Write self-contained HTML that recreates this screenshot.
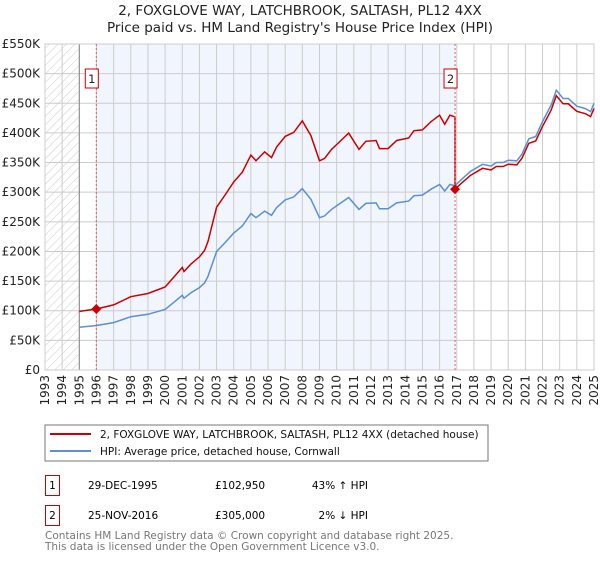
<!DOCTYPE html>
<html><head><meta charset="utf-8"><style>
body{margin:0;background:#fff;width:600px;height:560px;overflow:hidden;font-family:"DejaVu Sans","Liberation Sans",sans-serif;}
svg text{font-family:"DejaVu Sans","Liberation Sans",sans-serif;}
</style></head><body>
<svg id="c" width="600" height="560" xmlns="http://www.w3.org/2000/svg">
<defs><pattern id="hatch" width="6" height="6" patternUnits="userSpaceOnUse" patternTransform="rotate(45)"><line x1="0" y1="0" x2="0" y2="6" stroke="#ccc" stroke-width="1"/></pattern></defs>
<text x="300" y="15" text-anchor="middle" font-size="13.5" fill="#222">2, FOXGLOVE WAY, LATCHBROOK, SALTASH, PL12 4XX</text>
<text x="300" y="32" text-anchor="middle" font-size="13.5" fill="#222">Price paid vs. HM Land Registry's House Price Index (HPI)</text>
<g id="plot"></g>
<rect x="45" y="425" width="443" height="36" fill="#fff" stroke="#777"/>
<line x1="50" y1="434" x2="91" y2="434" stroke="#cc0000" stroke-width="2"/>
<text x="100" y="438" font-size="10.5" fill="#111">2, FOXGLOVE WAY, LATCHBROOK, SALTASH, PL12 4XX (detached house)</text>
<line x1="50" y1="451" x2="91" y2="451" stroke="#5b8fd6" stroke-width="2"/>
<text x="100" y="455" font-size="10.5" fill="#111">HPI: Average price, detached house, Cornwall</text>
<g>
<rect x="45.5" y="475.5" width="14" height="20" fill="#fff" stroke="#cc0000"/>
<text x="52.5" y="489" font-size="10.5" text-anchor="middle">1</text>
<text x="88" y="489" font-size="10.5">29-DEC-1995</text>
<text x="215" y="489" font-size="10.5">£102,950</text>
<text x="368" y="489" font-size="10.5" text-anchor="end">43% ↑ HPI</text>
</g>
<g>
<rect x="45.5" y="505.5" width="14" height="20" fill="#fff" stroke="#cc0000"/>
<text x="52.5" y="519" font-size="10.5" text-anchor="middle">2</text>
<text x="88" y="519" font-size="10.5">25-NOV-2016</text>
<text x="215" y="519" font-size="10.5">£305,000</text>
<text x="368" y="519" font-size="10.5" text-anchor="end">2% ↓ HPI</text>
</g>
<text x="45" y="539" font-size="10.5" fill="#777">Contains HM Land Registry data © Crown copyright and database right 2025.</text>
<text x="45" y="550" font-size="10.5" fill="#777">This data is licensed under the Open Government Licence v3.0.</text>
</svg>
<script>
const hpiYears=[1995,1996,1997,1998,1999,2000,2000.5,2001,2001.1,2001.5,2002,2002.3,2002.5,2003,2003.5,2004,2004.5,2005,2005.3,2005.8,2006.2,2006.5,2007,2007.5,2008,2008.5,2009,2009.3,2009.7,2010,2010.7,2011.3,2011.7,2012.3,2012.5,2013,2013.5,2014.2,2014.5,2015,2015.5,2016,2016.3,2016.6,2016.9,2017.3,2017.8,2018.5,2019,2019.3,2019.7,2020,2020.5,2020.8,2021.2,2021.6,2022,2022.5,2022.8,2023.2,2023.5,2024,2024.5,2024.8,2025];
const hpiValues=[72,75,80,90,94,102,114,126,121,130,139,147,158,200,215,231,243,264,257,268,261,274,287,292,306,288,257,260,271,277,291,271,281,282,272,272,282,285,294,295,305,313,302,313,311,322,335,347,344,350,350,354,353,364,390,394,419,447,472,458,458,445,441,436,450];
const saleYears=[1995.99,2016.9];
const salePrices=[102.95,305];
const saleLabels=["1","2"];
const yTicks=[0,50,100,150,200,250,300,350,400,450,500,550];
const yTickLabels=["£0","£50K","£100K","£150K","£200K","£250K","£300K","£350K","£400K","£450K","£500K","£550K"];
const xTicks=[1993,1994,1995,1996,1997,1998,1999,2000,2001,2002,2003,2004,2005,2006,2007,2008,2009,2010,2011,2012,2013,2014,2015,2016,2017,2018,2019,2020,2021,2022,2023,2024,2025];

const NS="http://www.w3.org/2000/svg";
const X0=45,X1=594,Y0=370,Y1=44;
const xs=y=>X0+(y-1993)/(2025-1993)*(X1-X0);
const ys=v=>Y0-v/550*(Y0-Y1);
const g=document.getElementById('plot');
function mk(t,a){const e=document.createElementNS(NS,t);for(const k in a)e.setAttribute(k,a[k]);g.appendChild(e);return e;}
function hpiAt(t){for(let i=0;i<hpiYears.length-1;i++){if(t<=hpiYears[i+1]){const f=(t-hpiYears[i])/(hpiYears[i+1]-hpiYears[i]);return hpiValues[i]+f*(hpiValues[i+1]-hpiValues[i]);}}return hpiValues[hpiValues.length-1];}

let e=mk('rect',{x:X0,y:Y1,width:X1-X0,height:Y0-Y1,fill:'#fff'});


e=mk('rect',{x:X0,y:Y1,width:xs(1995)-X0,height:Y0-Y1,fill:'url(#hatch)'});


e=mk('rect',{x:xs(saleYears[0]),y:Y1,width:xs(saleYears[1])-xs(saleYears[0]),height:Y0-Y1,fill:'#f1f5fd'});


yTicks.forEach((v,i)=>{
  let l=mk('line',{x1:X0,x2:X1,y1:ys(v),y2:ys(v),stroke:'#ccc','stroke-width':1});
  
  
  let t=mk('text',{x:40,y:ys(v)+4,'text-anchor':'end','font-size':12,fill:'#222'});
  t.textContent=yTickLabels[i];
  
  
});
xTicks.forEach(y=>{
  let l=mk('line',{x1:xs(y),x2:xs(y),y1:Y1,y2:Y0,stroke:'#ccc','stroke-width':1});
  
  
  let t=mk('text',{x:0,y:0,'text-anchor':'end','font-size':12,fill:'#222',transform:`translate(${xs(y)+4},375) rotate(-90)`});
  t.textContent=y;
  
  
});
e=mk('line',{x1:xs(1995),x2:xs(1995),y1:Y1,y2:Y0,stroke:'#888'});


e=mk('rect',{x:X0,y:Y1,width:X1-X0,height:Y0-Y1,fill:'none',stroke:'#ccc'});



const r1=salePrices[0]/hpiAt(saleYears[0]), r2=salePrices[1]/hpiAt(saleYears[1]);
let pts=[];
hpiYears.forEach((y,i)=>{if(y<saleYears[1])pts.push([y,hpiValues[i]*r1]);});
pts.push([saleYears[1],hpiAt(saleYears[1])*r1]);
pts.push([saleYears[1],salePrices[1]]);
hpiYears.forEach((y,i)=>{if(y>saleYears[1])pts.push([y,hpiValues[i]*r2]);});
let d=pts.map((p,i)=>(i?'L':'M')+xs(p[0]).toFixed(1)+','+ys(p[1]).toFixed(1)).join('');
e=mk('path',{d:d,fill:'none',stroke:'#cc0000','stroke-width':1.5});


d=hpiYears.map((y,i)=>(i?'L':'M')+xs(y).toFixed(1)+','+ys(hpiValues[i]).toFixed(1)).join('');
e=mk('path',{d:d,fill:'none',stroke:'#5b8fd6','stroke-width':1.5});


saleYears.forEach((y,i)=>{
  let l=mk('line',{x1:xs(y),x2:xs(y),y1:Y1,y2:Y0,stroke:'#e06060','stroke-dasharray':'2,2'});
  
  
  let p=mk('path',{d:`M${xs(y)},${ys(salePrices[i])-5}l5,5l-5,5l-5,-5z`,fill:'#cc0000'});
  
  
  let bx=xs(y)-11;
  let r=mk('rect',{x:bx,y:69,width:13,height:19,fill:'#fff',stroke:'#cc0000'});
  
  
  let t=mk('text',{x:bx+6.5,y:83,'text-anchor':'middle','font-size':11.5,fill:'#222'});
  t.textContent=saleLabels[i];
  
  
});
</script>
</body></html>
